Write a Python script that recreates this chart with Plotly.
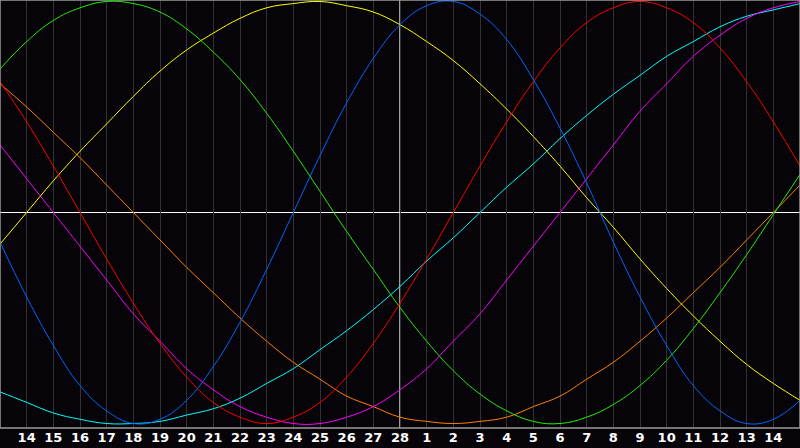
import plotly.graph_objs as go

# day positions across the chart (13th of previous month -> 15th of next)
days = list(range(31))
tick_pos = list(range(1, 30))
tick_labels = [str(d) for d in range(14, 29)] + [str(d) for d in range(1, 15)]

# cycle values, -1 .. 1
physical = [-0.14, -0.40, -0.63, -0.82, -0.94, -1.00, -0.98, -0.89, -0.73, -0.52,
            -0.27, 0.00, 0.27, 0.52, 0.73, 0.89, 0.98, 1.00, 0.94, 0.82,
            0.63, 0.40, 0.14, -0.14, -0.40, -0.63, -0.82, -0.94, -1.00, -0.98, -0.89]
emotional = [0.62, 0.43, 0.22, 0.00, -0.22, -0.43, -0.62, -0.78, -0.90, -0.97,
             -1.00, -0.97, -0.90, -0.78, -0.62, -0.43, -0.22, 0.00, 0.22, 0.43,
             0.62, 0.78, 0.90, 0.97, 1.00, 0.97, 0.90, 0.78, 0.62, 0.43, 0.22]
intellectual = [0.68, 0.81, 0.91, 0.97, 1.00, 0.99, 0.95, 0.87, 0.76, 0.63,
                0.47, 0.29, 0.10, -0.09, -0.27, -0.45, -0.61, -0.75, -0.86, -0.94,
                -0.99, -1.00, -0.97, -0.91, -0.82, -0.70, -0.55, -0.38, -0.20, -0.01, 0.18]
aesthetic = [-0.15, 0.00, 0.15, 0.29, 0.42, 0.55, 0.67, 0.77, 0.85, 0.92,
             0.97, 0.99, 1.00, 0.98, 0.95, 0.89, 0.81, 0.72, 0.61, 0.49,
             0.36, 0.22, 0.07, -0.07, -0.22, -0.36, -0.49, -0.61, -0.72, -0.81, -0.89]
intuitive = [0.32, 0.16, 0.00, -0.16, -0.32, -0.48, -0.61, -0.74, -0.84, -0.92,
             -0.97, -1.00, -1.00, -0.97, -0.92, -0.84, -0.74, -0.61, -0.48, -0.32,
             -0.16, 0.00, 0.16, 0.32, 0.48, 0.61, 0.74, 0.84, 0.92, 0.97, 1.00]
awareness = [0.61, 0.50, 0.38, 0.26, 0.13, 0.00, -0.13, -0.26, -0.38, -0.50,
             -0.61, -0.71, -0.79, -0.87, -0.92, -0.97, -0.99, -1.00, -0.99, -0.97,
             -0.92, -0.87, -0.79, -0.71, -0.61, -0.50, -0.38, -0.26, -0.13, 0.00, 0.13]
spiritual = [-0.85, -0.90, -0.95, -0.98, -1.00, -1.00, -0.99, -0.96, -0.93, -0.88,
             -0.81, -0.74, -0.65, -0.56, -0.46, -0.35, -0.23, -0.12, 0.00, 0.12,
             0.23, 0.35, 0.46, 0.56, 0.65, 0.74, 0.81, 0.88, 0.93, 0.96, 0.99]

series = [
    ('Spiritual', spiritual, '#00ffff'),
    ('Awareness', awareness, '#ff8000'),
    ('Intuitive', intuitive, '#ff00ff'),
    ('Aesthetic', aesthetic, '#ffff00'),
    ('Intellectual', intellectual, '#22ee00'),
    ('Emotional', emotional, '#ff0000'),
    ('Physical', physical, '#0066ff'),
]


def main():
    fig = go.Figure()

    for name, vals, col in series:
        fig.add_trace(go.Scatter(
            x=days, y=vals,
            mode='lines',
            name=name,
            line={'color': col, 'width': 1, 'shape': 'spline', 'smoothing': 1.2},
            showlegend=False,
            hoverinfo='none',
        ))

    # today marker and zero line
    fig.add_shape(type='line', xref='x', yref='paper', x0=15, x1=15, y0=0, y1=1,
                  line={'color': '#ffffff', 'width': 1.2}, layer='below')
    fig.add_shape(type='line', xref='paper', yref='y', x0=0, x1=1, y0=0, y1=0,
                  line={'color': '#ffffff', 'width': 1.2}, layer='below')
    # frame
    fig.add_shape(type='rect', xref='paper', yref='paper', x0=0, x1=1, y0=0, y1=1,
                  line={'color': '#9a9a9a', 'width': 1.5})

    fig.update_layout(
        width=800,
        height=448,
        margin={'l': 0, 'r': 0, 't': 0, 'b': 20},
        paper_bgcolor='#060409',
        plot_bgcolor='#060409',
        xaxis={
            'range': [0, 30],
            'tickvals': tick_pos,
            'ticktext': tick_labels,
            'showgrid': True,
            'gridcolor': '#333333',
            'gridwidth': 1,
            'zeroline': False,
            'ticks': '',
            'tickfont': {'family': 'DejaVu Sans', 'size': 13,
                         'color': '#ffffff', 'weight': 'bold'},
        },
        yaxis={
            'range': [-1.0213, 1.007],
            'visible': False,
            'showgrid': False,
            'zeroline': False,
        },
    )

    # the page's default body margin would push the chart off the window
    fig.write_html('out.html',
                   config={'displayModeBar': False},
                   post_script="document.body.style.margin='0';document.body.style.background='#060409';")


if __name__ == '__main__':
    main()
